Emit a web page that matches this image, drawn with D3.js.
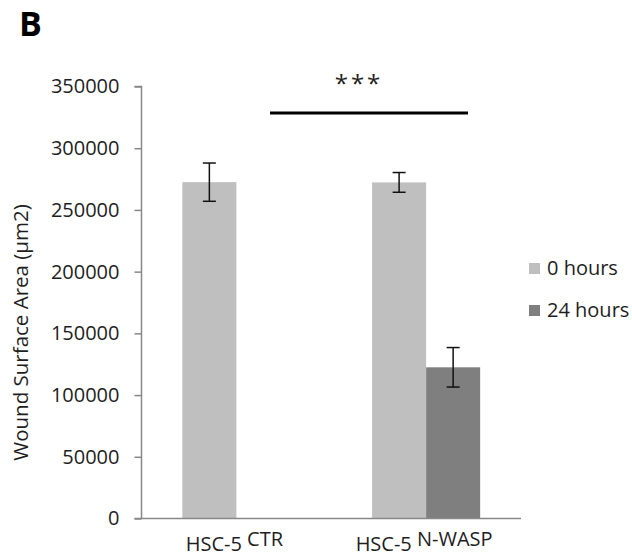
<!DOCTYPE html>
<html>
<head>
<meta charset="utf-8">
<script src="https://cdn.jsdelivr.net/npm/d3@7"></script>
<style>
  html, body { margin: 0; padding: 0; background: #fff; }
  svg { display: block; }
  text { font-family: "Open Sans", "Liberation Sans", Arial, sans-serif; fill: #1e1e1e; }
</style>
</head>
<body>
<svg id="chart" width="632" height="557"></svg>
<script>
// Wound surface area per cell line, at 0 h and 24 h after scratching
const categories = ["HSC-5 CTR", "HSC-5 N-WASP"];
const categoryBase = ["HSC-5", "HSC-5"];
const categorySup = ["CTR", "N-WASP"];
const seriesNames = ["0 hours", "24 hours"];
const hours0 = [272500, 272300];
const hours0Err = [15500, 8000];
const hours24 = [null, 122500];
const hours24Err = [null, 16000];
const yTicks = [0, 50000, 100000, 150000, 200000, 250000, 300000, 350000];
const significance = "***";

const colors = { "0 hours": "#bfbfbf", "24 hours": "#7f7f7f" };
const svg = d3.select("#chart");

const plot = { left: 141.5, right: 521, top: 86.5, bottom: 518.5 };

const x = d3.scaleBand().domain(categories).range([plot.left, plot.right]).padding(0);
const xs = d3.scaleBand().domain(seriesNames).range([0, x.bandwidth()])
  .paddingInner(0).paddingOuter(0.756);
const y = d3.scaleLinear().domain([0, 350000]).range([plot.bottom, plot.top]);

// Rows: one per bar that has a value
const rows = [];
categories.forEach((c, i) => {
  [[seriesNames[0], hours0[i], hours0Err[i]], [seriesNames[1], hours24[i], hours24Err[i]]]
    .forEach(([s, v, e]) => { if (v != null) rows.push({ cat: c, series: s, value: v, err: e }); });
});

// Bars
svg.append("g").selectAll("rect").data(rows).join("rect")
  .attr("x", d => x(d.cat) + xs(d.series))
  .attr("y", d => y(d.value))
  .attr("width", xs.bandwidth())
  .attr("height", d => y(0) - y(d.value))
  .attr("fill", d => colors[d.series]);

// Y axis
const yAxis = svg.append("g")
  .attr("transform", `translate(${plot.left},0)`)
  .call(d3.axisLeft(y).tickValues(yTicks).tickFormat(d3.format("d")).tickSize(7).tickPadding(15));
yAxis.select(".domain").attr("stroke", "#888").attr("stroke-width", 1.5).attr("d", `M-7,${y(350000)}H0V${y(0)}`);
yAxis.selectAll(".tick line").attr("stroke", "#888").attr("stroke-width", 1.5);
yAxis.selectAll(".tick text").attr("font-size", 20).attr("fill", "#1e1e1e")
  .attr("font-family", '"Open Sans", "Liberation Sans", Arial, sans-serif');

// X axis baseline
svg.append("line")
  .attr("x1", plot.left - 7).attr("x2", plot.right)
  .attr("y1", y(0)).attr("y2", y(0))
  .attr("stroke", "#888").attr("stroke-width", 1.5);

// Error bars
const eb = svg.append("g").attr("stroke", "#111").attr("stroke-width", 1.5);
rows.forEach(d => {
  const cx = x(d.cat) + xs(d.series) + xs.bandwidth() / 2;
  const yt = y(d.value + d.err), yb = y(d.value - d.err);
  eb.append("line").attr("x1", cx).attr("x2", cx).attr("y1", yt).attr("y2", yb);
  eb.append("line").attr("x1", cx - 6.5).attr("x2", cx + 6.5).attr("y1", yt).attr("y2", yt);
  eb.append("line").attr("x1", cx - 6.5).attr("x2", cx + 6.5).attr("y1", yb).attr("y2", yb);
});

// Category labels with raised suffix
categories.forEach((c, i) => {
  const t = svg.append("text")
    .attr("x", x(c) + x.bandwidth() / 2 - 2)
    .attr("y", 551)
    .attr("text-anchor", "middle")
    .attr("font-size", 20);
  t.append("tspan").text(categoryBase[i] + " ");
  t.append("tspan").attr("dy", -5).text(categorySup[i]);
});

// Axis title
svg.append("text")
  .attr("transform", `translate(28,${(plot.top + plot.bottom) / 2 + 30}) rotate(-90)`)
  .attr("text-anchor", "middle")
  .attr("font-size", 20.5)
  .text("Wound Surface Area (\u00b5m2)");

// Significance bracket between groups
svg.append("line")
  .attr("x1", 270).attr("x2", 468)
  .attr("y1", 113).attr("y2", 113)
  .attr("stroke", "#000").attr("stroke-width", 3);
svg.append("text")
  .attr("x", 359).attr("y", 92)
  .attr("text-anchor", "middle")
  .attr("font-size", 24)
  .attr("letter-spacing", 3)
  .text(significance);

// Legend
const lg = svg.append("g");
seriesNames.forEach((s, i) => {
  const yy = 263 + i * 42;
  lg.append("rect").attr("x", 529).attr("y", yy).attr("width", 11).attr("height", 11).attr("fill", colors[s]);
  lg.append("text").attr("x", 547).attr("y", yy + 12).attr("font-size", 20).text(s);
});

// Panel letter
svg.append("text")
  .attr("x", 19).attr("y", 36)
  .attr("font-family", '"Liberation Sans", Arial, sans-serif')
  .attr("font-weight", "bold")
  .attr("font-size", 34)
  .style("fill", "#000")
  .text("B");
</script>
</body>
</html>
